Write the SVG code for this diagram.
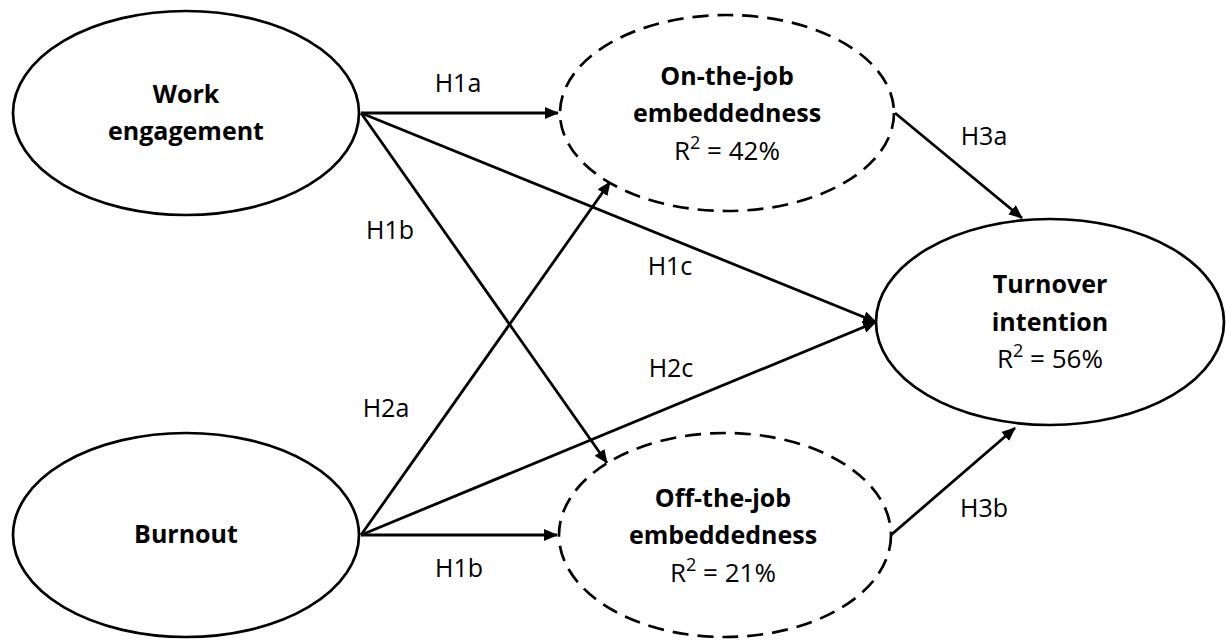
<svg xmlns="http://www.w3.org/2000/svg" width="1226" height="640" viewBox="0 0 1226 640">
<style>
.node{fill:#fff;stroke:#000;stroke-width:2.7}
.dash{stroke-dasharray:16 9}
.t{font-family:"Open Sans","Liberation Sans",sans-serif;font-size:25px;fill:#000;text-anchor:middle}
.b{font-weight:bold}
.r{font-size:26px}
.lbl{font-family:"Open Sans","Liberation Sans",sans-serif;font-size:25px;fill:#000;text-anchor:middle}
.c{stroke:#000;stroke-width:2.8;fill:none;marker-end:url(#ah)}
</style>
<defs>
<marker id="ah" markerUnits="userSpaceOnUse" markerWidth="14" markerHeight="12" refX="13" refY="6" orient="auto">
<path d="M0,0 L14,6 L0,12 z" fill="#000"/>
</marker>
</defs>
<rect width="1226" height="640" fill="#fff"/>
<g id="connectors">
<line class="c" x1="361" y1="113" x2="558" y2="113"/>
<line class="c" x1="361" y1="113" x2="876" y2="322"/>
<line class="c" x1="361" y1="113" x2="607" y2="463"/>
<line class="c" x1="361" y1="535" x2="610" y2="182"/>
<line class="c" x1="361" y1="535" x2="876" y2="322"/>
<line class="c" x1="361" y1="535" x2="557" y2="535"/>
<line class="c" x1="895" y1="113" x2="1022" y2="218"/>
<line class="c" x1="891" y1="535" x2="1015" y2="428"/>
<text class="lbl" x="458" y="92">H1a</text>
<text class="lbl" x="390" y="239">H1b</text>
<text class="lbl" x="670" y="275">H1c</text>
<text class="lbl" x="671" y="377">H2c</text>
<text class="lbl" x="386" y="417">H2a</text>
<text class="lbl" x="459" y="577">H1b</text>
<text class="lbl" x="984" y="145">H3a</text>
<text class="lbl" x="984" y="517">H3b</text>
</g>
<g id="work">
<ellipse class="node" cx="186" cy="113" rx="173" ry="102"/>
<text class="t b" x="186" y="103">Work</text>
<text class="t b" x="186" y="140">engagement</text>
</g>
<g id="burnout">
<ellipse class="node" cx="186" cy="535" rx="173" ry="102"/>
<text class="t b" x="186" y="543">Burnout</text>
</g>
<g id="onjob">
<ellipse class="node dash" cx="727" cy="113" rx="167" ry="98"/>
<text class="t b" x="727" y="85">On-the-job</text>
<text class="t b" x="727" y="122">embeddedness</text>
<text class="t r" x="727" y="160">R<tspan font-size="18" dy="-11">2</tspan><tspan dy="11"> = 42%</tspan></text>
</g>
<g id="offjob">
<ellipse class="node dash" cx="725" cy="535" rx="166" ry="102"/>
<text class="t b" x="723" y="507">Off-the-job</text>
<text class="t b" x="723" y="544">embeddedness</text>
<text class="t r" x="723" y="582">R<tspan font-size="18" dy="-11">2</tspan><tspan dy="11"> = 21%</tspan></text>
</g>
<g id="turnover">
<ellipse class="node" cx="1050" cy="322" rx="174" ry="103"/>
<text class="t b" x="1050" y="293">Turnover</text>
<text class="t b" x="1050" y="331">intention</text>
<text class="t r" x="1050" y="368">R<tspan font-size="18" dy="-11">2</tspan><tspan dy="11"> = 56%</tspan></text>
</g>
</svg>
